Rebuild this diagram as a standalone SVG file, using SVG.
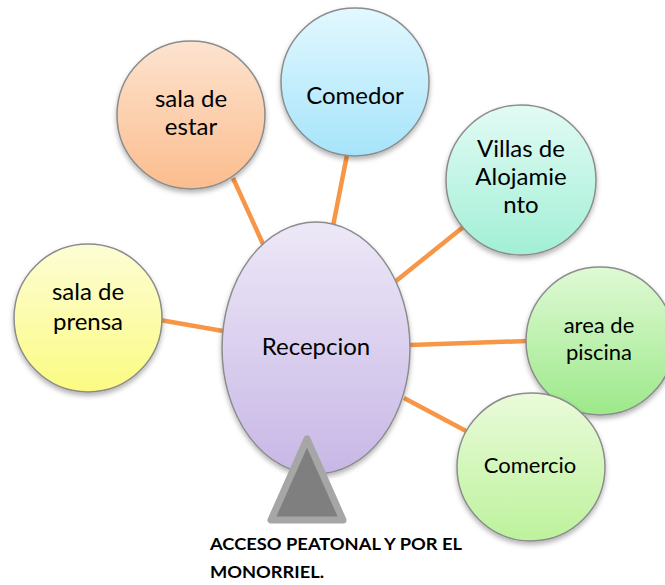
<svg xmlns="http://www.w3.org/2000/svg" width="665" height="585" viewBox="0 0 665 585">
<defs>
<linearGradient id="gEstar" x1="0" y1="0" x2="0" y2="1"><stop offset="0" stop-color="#fde3cf"/><stop offset="1" stop-color="#fbbd8e"/></linearGradient>
<linearGradient id="gComedor" x1="0" y1="0" x2="0" y2="1"><stop offset="0" stop-color="#e2f8ff"/><stop offset="1" stop-color="#a6e4fa"/></linearGradient>
<linearGradient id="gVillas" x1="0" y1="0" x2="0" y2="1"><stop offset="0" stop-color="#e2fbf4"/><stop offset="1" stop-color="#a2efd6"/></linearGradient>
<linearGradient id="gPiscina" x1="0" y1="0" x2="0" y2="1"><stop offset="0" stop-color="#dff9d4"/><stop offset="1" stop-color="#9de98a"/></linearGradient>
<linearGradient id="gComercio" x1="0" y1="0" x2="0" y2="1"><stop offset="0" stop-color="#eafbda"/><stop offset="1" stop-color="#bdf29c"/></linearGradient>
<linearGradient id="gPrensa" x1="0" y1="0" x2="0" y2="1"><stop offset="0" stop-color="#fdfdd6"/><stop offset="1" stop-color="#fbfb82"/></linearGradient>
<linearGradient id="gRecep" x1="0" y1="0" x2="0" y2="1"><stop offset="0" stop-color="#ede8f7"/><stop offset="1" stop-color="#c8b7e6"/></linearGradient>
<filter id="sh" x="-20%" y="-20%" width="140%" height="140%"><feDropShadow dx="0" dy="3" stdDeviation="2.5" flood-color="#000" flood-opacity="0.3"/></filter>
</defs>
<style>
.node{stroke:#8c8c8c;stroke-width:1.5;filter:url(#sh)}
.lbl{font-family:Lato,"Open Sans",sans-serif;fill:#000;text-anchor:middle}
.con line{stroke:#f79646;stroke-width:4.5;stroke-linecap:butt}
.acc{font-family:Lato,"Liberation Sans",sans-serif;font-weight:bold;font-size:17px;fill:#000}
</style>
<g class="con" id="connectors">
<line x1="233" y1="178" x2="263" y2="244"/>
<line x1="347" y1="155" x2="333" y2="226"/>
<line x1="467" y1="224" x2="396" y2="281"/>
<line x1="527" y1="341" x2="410" y2="345"/>
<line x1="466" y1="431" x2="404" y2="398"/>
<line x1="160" y1="320" x2="223" y2="331"/>
</g>
<g id="sala-estar"><circle class="node" cx="191" cy="115" r="74" fill="url(#gEstar)"/><text class="lbl" x="191" y="107" font-size="24">sala de</text><text class="lbl" x="191" y="135" font-size="24">estar</text></g>
<g id="comedor"><circle class="node" cx="355" cy="82" r="74" fill="url(#gComedor)"/><text class="lbl" x="355" y="104" font-size="24">Comedor</text></g>
<g id="villas"><circle class="node" cx="521" cy="180" r="75" fill="url(#gVillas)"/><text class="lbl" x="521" y="157" font-size="24">Villas de</text><text class="lbl" x="521" y="185" font-size="24">Alojamie</text><text class="lbl" x="521" y="213" font-size="24">nto</text></g>
<g id="piscina"><circle class="node" cx="600" cy="341" r="74" fill="url(#gPiscina)"/><text class="lbl" x="599" y="333" font-size="22">area de</text><text class="lbl" x="599" y="360" font-size="22">piscina</text></g>
<g id="comercio"><circle class="node" cx="531" cy="467" r="74" fill="url(#gComercio)"/><text class="lbl" x="530" y="473" font-size="22">Comercio</text></g>
<g id="prensa"><circle class="node" cx="88" cy="318" r="74" fill="url(#gPrensa)"/><text class="lbl" x="88" y="300" font-size="24">sala de</text><text class="lbl" x="88" y="330" font-size="24">prensa</text></g>
<g id="recepcion"><ellipse class="node" cx="316" cy="348" rx="94" ry="126" fill="url(#gRecep)"/><text class="lbl" x="316" y="355" font-size="24">Recepcion</text></g>
<g id="acceso"><polygon points="307,439 271,520 343,520" fill="#7f7f7f" stroke="#a6a6a6" stroke-width="7" stroke-linejoin="round"/>
<text class="acc" x="210" y="550" textLength="252" lengthAdjust="spacingAndGlyphs">ACCESO PEATONAL Y POR EL</text>
<text class="acc" x="210" y="578" textLength="114" lengthAdjust="spacingAndGlyphs">MONORRIEL.</text></g>
</svg>
